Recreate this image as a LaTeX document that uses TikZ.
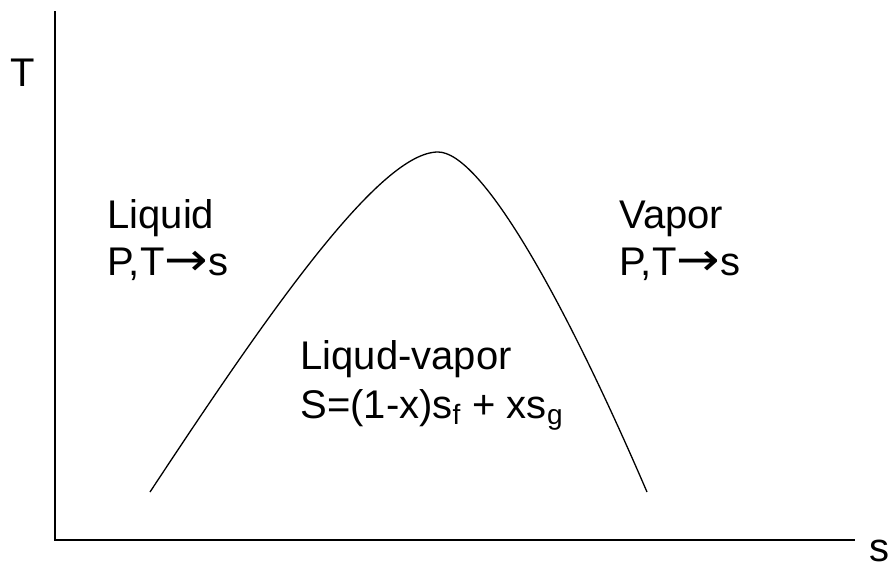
\documentclass[tikz,border=0pt]{standalone}
\usepackage{fontspec}
\setmainfont{Liberation Sans}
\newfontfamily\arrowfont{DejaVu Sans}
\usepackage{tikz}
\usetikzlibrary{positioning,calc}
\newcommand{\lbltext}{\fontsize{20}{24}\selectfont}
\newcommand{\toarrow}{{\arrowfont\scalebox{1.3}[1.15]{→}}}

\begin{document}
\begin{tikzpicture}[x=0.5pt, y=-0.5pt,
        lbl/.style={anchor=base west, inner sep=0pt, font=\lbltext}]
        \useasboundingbox (0,0) rectangle (894,568);
        % axes
        \coordinate (ytop) at (55,11);
        \coordinate (orig) at (55,540);
        \coordinate (xend) at (855,540);
        \draw[line width=1pt] (ytop) -- (orig) -- (xend);
        \node[lbl, anchor=base] (tlab) at (23,86) {T};
        \node[lbl] (slab) at (869,561) {s};
        % saturation dome
        \coordinate (domel) at (150,492);
        \coordinate (domet) at (438,152);
        \coordinate (domer) at (647,492);
        \draw[line width=0.65pt] (domel) .. controls (270,310) and (380,152) .. (domet)
            .. controls (480,152) and (560,290) .. (domer);
        % regions
        \node[lbl] (liq) at (107,228) {Liquid};
        \node[lbl] (liqrule) at (107,275) {P,T\toarrow s};
        \node[lbl] (vap) at (619,228) {Vapor};
        \node[lbl] (vaprule) at (619,275) {P,T\toarrow s};
        \node[lbl] (mix) at (300,369) {Liqud-vapor};
        \node[lbl] (mixrule) at (300,418) {S=(1-x)s\textsubscript{f} + xs\textsubscript{g}};
    \end{tikzpicture}
\end{document}
